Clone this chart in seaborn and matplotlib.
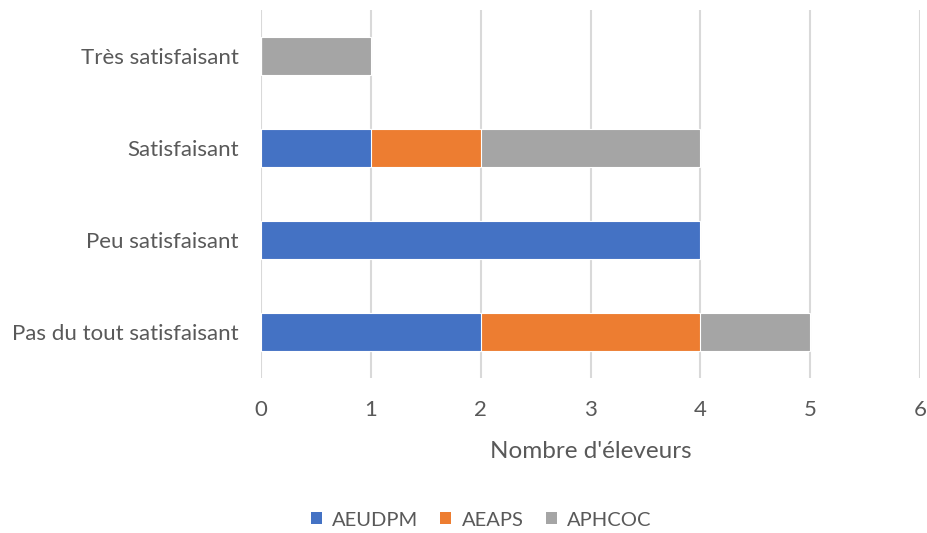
import matplotlib
matplotlib.use("Agg")
import matplotlib.pyplot as plt
from matplotlib.patches import Patch
import seaborn as sns
import pandas as pd
import numpy as np

categories = ["Très satisfaisant", "Satisfaisant", "Peu satisfaisant", "Pas du tout satisfaisant"]
series_names = ["AEUDPM", "AEAPS", "APHCOC"]
aeudpm = [0, 1, 4, 2]
aeaps = [0, 1, 0, 2]
aphcoc = [1, 2, 0, 1]
colors = ["#4472C4", "#ED7D31", "#A5A5A5"]
x_ticks = [0, 1, 2, 3, 4, 5, 6]
x_label = "Nombre d'éleveurs"

sns.set_theme(style="white")
plt.rcParams["font.family"] = ["Lato", "DejaVu Sans"]
text_color = "#595959"

fig = plt.figure(figsize=(9.27, 5.33), dpi=100)
ax = fig.add_axes([0.2816, 0.291, 0.7109, 0.690])

series = [np.array(aeudpm), np.array(aeaps), np.array(aphcoc)]
cumul = np.cumsum(series, axis=0)

# stacked bars: draw cumulative totals from the outermost layer inwards
for i in range(len(series) - 1, -1, -1):
    d = pd.DataFrame({"cat": categories, "val": cumul[i]})
    sns.barplot(data=d, x="val", y="cat", orient="h", color=colors[i],
                saturation=1, width=0.405, edgecolor="white", linewidth=0.8,
                ax=ax, zorder=3)

ax.set_xlim(0, 6)
ax.set_ylim(3.5, -0.5)
ax.set_xticks(x_ticks)
ax.set_xticklabels([str(t) for t in x_ticks])
ax.grid(axis="x", color="#D9D9D9", linewidth=1.5, zorder=0)
ax.set_axisbelow(True)
for s in ax.spines.values():
    s.set_visible(False)
ax.tick_params(axis="both", length=0, labelsize=16, colors=text_color)
ax.tick_params(axis="x", pad=16)
ax.tick_params(axis="y", pad=16)
ax.set_ylabel("")
ax.set_xlabel(x_label, fontsize=17.5, color=text_color, labelpad=15)

handles = [Patch(facecolor=c, edgecolor="none") for c in colors]
fig.legend(handles, series_names, loc="center", bbox_to_anchor=(481 / 927, 1 - 520 / 533),
           ncol=3, frameon=False, fontsize=14.5, labelcolor=text_color,
           handlelength=0.55, handleheight=0.55, handletextpad=0.5, columnspacing=1.1)

fig.savefig("out.png", dpi=100)
